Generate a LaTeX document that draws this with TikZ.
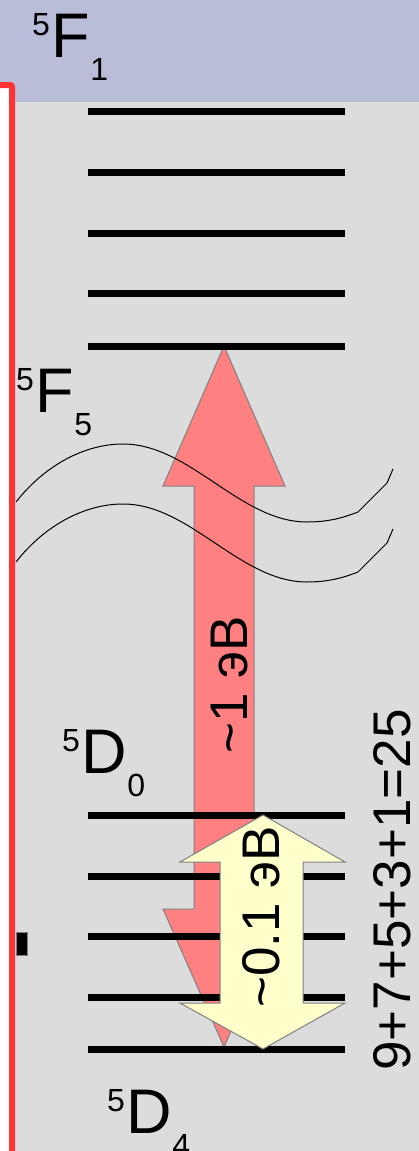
\documentclass[tikz,border=0pt]{standalone}
\usepackage{fontspec}
\setmainfont{Liberation Sans}
\usetikzlibrary{positioning}
\definecolor{bandblue}{HTML}{B9BDD8}
\definecolor{panelgray}{HTML}{DCDCDC}
\definecolor{framered}{HTML}{FF3333}
\definecolor{pumpred}{HTML}{FF8080}
\definecolor{splitcream}{HTML}{FFFFCC}
\newcommand{\termsym}[3]{\raisebox{22pt}{\fontsize{32}{32}\selectfont #1}\kern2pt{\fontsize{63}{63}\selectfont #2}\raisebox{-23pt}{\fontsize{32}{32}\selectfont #3}}
\newcommand{\tld}{\symbol{126}}
\tikzset{
  levelline/.style={line width=7pt,draw=black},
  termlabel/.style={inner sep=0pt,anchor=base west},
  energylabel/.style={rotate=90,inner sep=0pt,font=\fontsize{53}{53}\selectfont},
  blockarrow/.style={draw=gray,line width=1pt,fill=#1},
  blockarrow/.default=pumpred,
  wave/.style={line width=1pt,draw=black}
}
\begin{document}
\begin{tikzpicture}[x=1pt,y=-1pt]
\useasboundingbox (0,0) rectangle (419,1151);
% background panels
\fill[bandblue] (0,0) rectangle (419,102);
\fill[white] (0,85) rectangle (12,1151);
\fill[panelgray] (12,102) rectangle (419,1151);
\draw[framered,line width=6pt,rounded corners=2pt] (0,85) -- (12,85) -- (12,1151);
\filldraw[fill=black,draw=gray] (16,932) rectangle (27,955);
% excitation arrow
\filldraw[blockarrow=pumpred] (224,346) -- (285,486) -- (254,486) -- (254,909) -- (285,909)
  -- (224,1047) -- (163,909) -- (194,909) -- (194,486) -- (163,486) -- cycle;
% break in the energy scale
\foreach \dy in {0,60} {
  \draw[wave,yshift=-\dy pt] (16,502) .. controls (45,465) and (85,444) .. (123,444)
    .. controls (190,444) and (240,522) .. (307,522)
    .. controls (330,522) and (345,517) .. (358,512) -- (387,483) -- (393,469);
}
% levels
\foreach \y [count=\i] in {111,172,233,293,346}
  \draw[levelline] (88,\y) coordinate (up\i) -- (345,\y);
\foreach \y [count=\i] in {815,876,936,997,1049}
  \draw[levelline] (88,\y) coordinate (low\i) -- (345,\y);
% splitting arrow
\filldraw[blockarrow=splitcream] (263,815) -- (345,862) -- (303,862) -- (303,1003) -- (345,1003)
  -- (263,1049) -- (180,1003) -- (220,1003) -- (220,862) -- (180,862) -- cycle;
% labels
\node[termlabel] (f1) at (32,57) {\termsym{5}{F}{1}};
\node[termlabel] (f5) at (16,412) {\termsym{5}{F}{5}};
\node[termlabel] (d0) at (62,773) {\termsym{5}{D}{0}};
\node[termlabel] (d4) at (107,1133) {\termsym{5}{D}{4}};
\node[energylabel] (pump) at (230,685) {\tld1 эВ};
\node[energylabel] (split) at (261,917) {\tld0.1 эВ};
\node[energylabel] (count) at (392,890) {9+7+5+3+1=25};
\end{tikzpicture}
\end{document}
